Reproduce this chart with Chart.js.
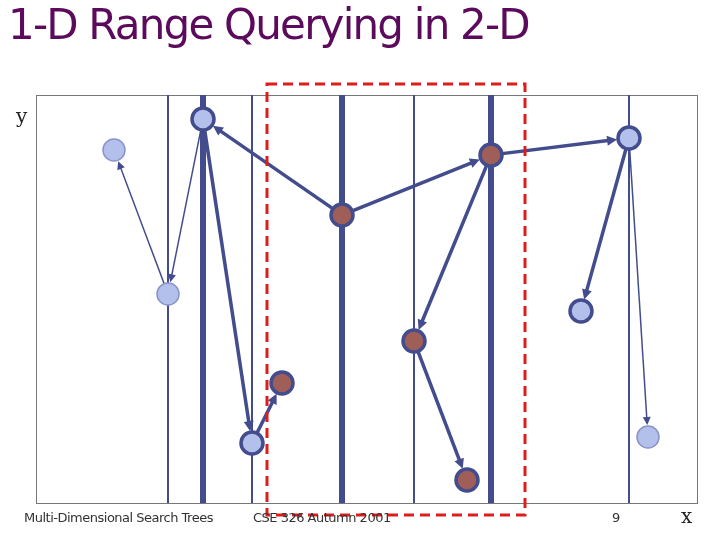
<!DOCTYPE html>
<html><head><meta charset="utf-8">
<script src="https://cdn.jsdelivr.net/npm/chart.js@4"></script>
<style>
body{margin:0;width:720px;height:540px;background:#fff;position:relative;overflow:hidden;font-family:"DejaVu Sans",sans-serif}
#t{position:absolute;left:8px;top:0px;font-size:42px;color:#5c0a5c;letter-spacing:-1.8px;font-family:"DejaVu Sans"}
.f{position:absolute;font-size:13px;color:#333;letter-spacing:-0.5px}
.s{position:absolute;font-family:"DejaVu Serif",serif;font-size:20px;color:#222}
canvas{position:absolute;left:0;top:0}
</style></head><body>
<canvas id="c" width="720" height="540"></canvas>
<div id="t">1-D Range Querying in 2-D</div>
<div class="s" style="left:16px;top:104px">y</div>
<div class="s" style="left:681px;top:504px">x</div>
<div class="f" style="left:24px;top:510px">Multi-Dimensional Search Trees</div>
<div class="f" style="left:253px;top:510px">CSE 326 Autumn 2001</div>
<div class="f" style="left:612px;top:510px">9</div>
<script>
const pointsX=[114,168,252,581,648,203,629,342,491,414,282,467];
const pointsY=[150,294,443,311,437,119,138,215,155,341,383,480];
const pointKind=["leaf","leaf","node","node","leaf","node","node","hit","hit","hit","hit","hit"];
const thickLinesX=[203,342,491];
const thinLinesX=[168,252,414,629];
const edgesThick=[[7,5],[7,8],[8,6],[5,2],[2,10],[8,9],[9,11],[6,3]];
const edgesThin=[[5,1],[1,0],[6,4]];
const queryBox=[267,525,84,515];
const navy="#434c8c";
function arrow(ctx,x1,y1,x2,y2,w,r){
  const a=Math.atan2(y2-y1,x2-x1);
  const ex=x2-Math.cos(a)*r, ey=y2-Math.sin(a)*r;
  const sx=x1+Math.cos(a)*r*0.6, sy=y1+Math.sin(a)*r*0.6;
  ctx.strokeStyle=navy;ctx.fillStyle=navy;ctx.lineWidth=w;
  ctx.beginPath();ctx.moveTo(sx,sy);ctx.lineTo(ex-Math.cos(a)*5,ey-Math.sin(a)*5);ctx.stroke();
  const L=w>2?10:8,H=w>2?5:4;
  ctx.beginPath();ctx.moveTo(ex,ey);
  ctx.lineTo(ex-L*Math.cos(a)+H*Math.sin(a),ey-L*Math.sin(a)-H*Math.cos(a));
  ctx.lineTo(ex-L*Math.cos(a)-H*Math.sin(a),ey-L*Math.sin(a)+H*Math.cos(a));
  ctx.closePath();ctx.fill();
}
const deco={id:"deco",
 beforeDatasetsDraw(ch){
  const ctx=ch.ctx,xs=ch.scales.x,ys=ch.scales.y,a=ch.chartArea;
  ctx.save();
  ctx.strokeStyle="#777";ctx.lineWidth=1;ctx.strokeRect(a.left+0.5,a.top+0.5,a.right-a.left,a.bottom-a.top);
  ctx.strokeStyle=navy;
  thinLinesX.forEach(v=>{const x=xs.getPixelForValue(v);ctx.lineWidth=2;ctx.beginPath();ctx.moveTo(x,a.top);ctx.lineTo(x,a.bottom);ctx.stroke();});
  thickLinesX.forEach(v=>{const x=xs.getPixelForValue(v);ctx.lineWidth=6;ctx.beginPath();ctx.moveTo(x,a.top);ctx.lineTo(x,a.bottom);ctx.stroke();});
  const P=i=>[xs.getPixelForValue(pointsX[i]),ys.getPixelForValue(pointsY[i])];
  edgesThick.forEach(([i,j])=>{const[p,q]=[P(i),P(j)];arrow(ctx,p[0],p[1],q[0],q[1],3.5,12);});
  edgesThin.forEach(([i,j])=>{const[p,q]=[P(i),P(j)];arrow(ctx,p[0],p[1],q[0],q[1],1.5,12);});
  ctx.restore();
 },
 afterDraw(ch){
  const ctx=ch.ctx,xs=ch.scales.x,ys=ch.scales.y;
  const x1=xs.getPixelForValue(queryBox[0]),x2=xs.getPixelForValue(queryBox[1]);
  const y1=ys.getPixelForValue(queryBox[2]),y2=ys.getPixelForValue(queryBox[3]);
  ctx.save();ctx.strokeStyle="#dd1c1c";ctx.lineWidth=3;ctx.setLineDash([10,6]);
  ctx.strokeRect(x1,y1,x2-x1,y2-y1);ctx.restore();
 }};
const fill={leaf:"#b4c0ec",node:"#b4c0ec",hit:"#a05e58"};
const border={leaf:"#8a94c8",node:navy,hit:navy};
const bw={leaf:1.5,node:3.5,hit:3.5};
new Chart(document.getElementById("c"),{type:"scatter",
 data:{datasets:[{data:pointsX.map((x,i)=>({x,y:pointsY[i]})),
  pointRadius:11,pointHoverRadius:11,clip:false,
  backgroundColor:pointKind.map(k=>fill[k]),borderColor:pointKind.map(k=>border[k]),borderWidth:pointKind.map(k=>bw[k])}]},
 options:{responsive:false,animation:false,events:[],
  layout:{padding:{left:36,top:95,right:23,bottom:37}},
  plugins:{legend:{display:false},tooltip:{enabled:false}},
  scales:{x:{type:"linear",min:36,max:697,display:false},y:{type:"linear",min:95,max:503,reverse:true,display:false}}},
 plugins:[deco]});
</script></body></html>
